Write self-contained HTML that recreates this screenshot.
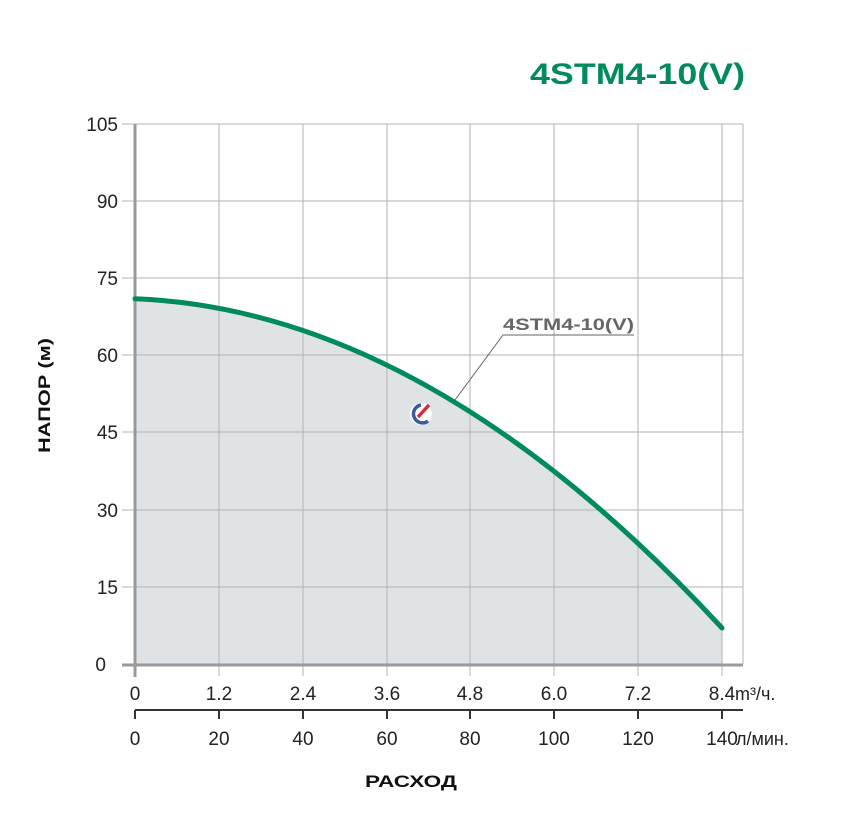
<!DOCTYPE html>
<html><head><meta charset="utf-8"><style>
body{margin:0;background:#fff;width:841px;height:827px;overflow:hidden}
text{font-family:"Liberation Sans",sans-serif}
</style></head><body>
<svg width="841" height="827" viewBox="0 0 841 827" xmlns="http://www.w3.org/2000/svg">
<path d="M135,298.8 Q428.5,310.4 722,628 L722,664 L135,664 Z" fill="#dfe3e6"/>
<g stroke="#b3b3b3" stroke-width="1">
<line x1="219" y1="124" x2="219" y2="676"/><line x1="303" y1="124" x2="303" y2="676"/>
<line x1="387" y1="124" x2="387" y2="676"/><line x1="470" y1="124" x2="470" y2="676"/>
<line x1="554" y1="124" x2="554" y2="676"/><line x1="638" y1="124" x2="638" y2="676"/>
<line x1="722" y1="124" x2="722" y2="676"/><line x1="743" y1="124" x2="743" y2="664"/>
<line x1="122" y1="124" x2="743" y2="124"/><line x1="122" y1="201" x2="743" y2="201"/>
<line x1="122" y1="278" x2="743" y2="278"/><line x1="122" y1="355" x2="743" y2="355"/>
<line x1="122" y1="432" x2="743" y2="432"/><line x1="122" y1="510" x2="743" y2="510"/>
<line x1="122" y1="587" x2="743" y2="587"/>
</g>
<line x1="122" y1="665" x2="743" y2="665" stroke="#9a9a9a" stroke-width="3"/>
<line x1="135" y1="124" x2="135" y2="677" stroke="#9a9a9a" stroke-width="3"/>
<path d="M135,298.8 Q428.5,310.4 722,628" fill="none" stroke="#008a5e" stroke-width="5" stroke-linecap="round"/>
<polyline points="455,400 503,335 634,335" fill="none" stroke="#666" stroke-width="1"/>
<text x="503" y="330" font-size="17" font-weight="bold" fill="#666" textLength="131" lengthAdjust="spacingAndGlyphs">4STM4-10(V)</text>
<circle cx="421" cy="414" r="11" fill="#fff"/>
<path d="M428,421 A9,9 0 1 1 421,405" fill="none" stroke="#3d5a98" stroke-width="3.5"/>
<line x1="418" y1="417" x2="429" y2="405" stroke="#d8283f" stroke-width="3.5"/>
<text x="530" y="84" font-size="30" font-weight="bold" fill="#008a5e" textLength="215" lengthAdjust="spacingAndGlyphs">4STM4-10(V)</text>
<g font-size="19" fill="#222" text-anchor="end">
<text x="118" y="131">105</text><text x="118" y="208">90</text><text x="118" y="285">75</text>
<text x="118" y="362">60</text><text x="118" y="439">45</text><text x="118" y="517">30</text>
<text x="118" y="594">15</text><text x="106" y="671">0</text>
</g>
<g font-size="19" fill="#222" text-anchor="middle">
<text x="135" y="700">0</text><text x="219" y="700">1.2</text><text x="303" y="700">2.4</text>
<text x="387" y="700">3.6</text><text x="470" y="700">4.8</text><text x="554" y="700">6.0</text>
<text x="638" y="700">7.2</text><text x="722" y="700">8.4</text>
<text x="135" y="745">0</text><text x="219" y="745">20</text><text x="303" y="745">40</text>
<text x="387" y="745">60</text><text x="470" y="745">80</text><text x="554" y="745">100</text>
<text x="638" y="745">120</text><text x="722" y="745">140</text>
</g>
<text x="735" y="700" font-size="18" fill="#222">m³/ч.</text>
<text x="736" y="745" font-size="18" fill="#222">л/мин.</text>
<line x1="135" y1="710" x2="743" y2="710" stroke="#333" stroke-width="2"/>
<g stroke="#333" stroke-width="2">
<line x1="135" y1="710" x2="135" y2="719"/><line x1="219" y1="710" x2="219" y2="719"/>
<line x1="303" y1="710" x2="303" y2="719"/><line x1="387" y1="710" x2="387" y2="719"/>
<line x1="470" y1="710" x2="470" y2="719"/><line x1="554" y1="710" x2="554" y2="719"/>
<line x1="638" y1="710" x2="638" y2="719"/><line x1="722" y1="710" x2="722" y2="719"/>
</g>
<text x="365" y="787" font-size="17" font-weight="bold" fill="#111" textLength="92" lengthAdjust="spacingAndGlyphs">РАСХОД</text>
<text transform="translate(50,453) rotate(-90)" font-size="17" font-weight="bold" fill="#111" textLength="115" lengthAdjust="spacingAndGlyphs">НАПОР (м)</text>
</svg>
</body></html>
